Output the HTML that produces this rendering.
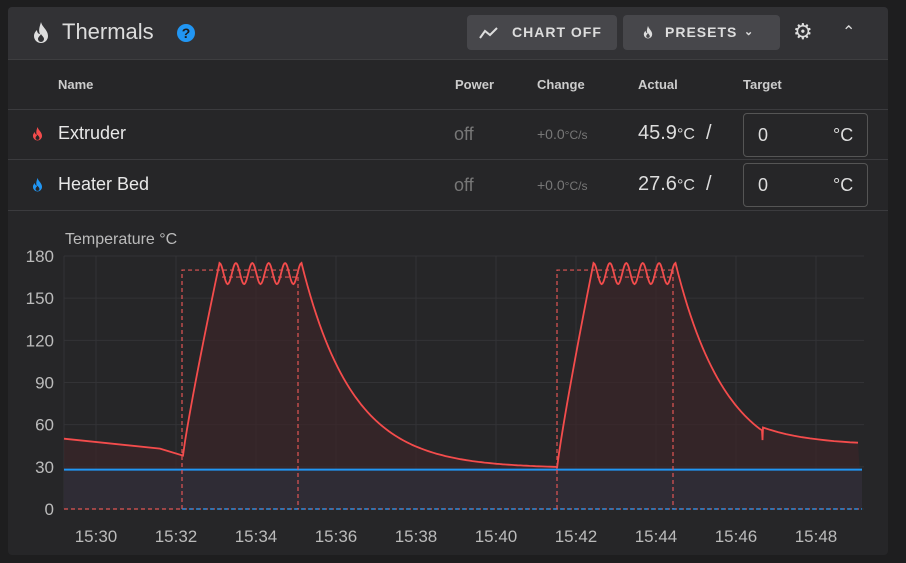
<!DOCTYPE html>
<html><head><style>
body{margin:0;width:906px;height:563px;background:#1e1e1f;font-family:"Liberation Sans",sans-serif;position:relative;overflow:hidden}
.card{position:absolute;left:8px;top:7px;width:880px;height:548px;background:#262628;border-radius:4px}
.hdr{position:absolute;left:0;top:0;width:880px;height:52px;background:#323235;border-bottom:1px solid #3e3e40;border-radius:4px 4px 0 0}
.t{position:absolute;white-space:nowrap}
.btn{position:absolute;top:8px;height:35px;background:#47474b;border-radius:4px;color:#ddd;font-weight:bold;font-size:14px;letter-spacing:1px;line-height:35px}
.line{position:absolute;left:0;width:880px;height:1px;background:#3b3b3e}
.inp{position:absolute;left:735px;width:123px;height:42px;border:1px solid #555;border-radius:4px}
</style></head><body>
<svg width="0" height="0" style="position:absolute"><defs><symbol id="fl" viewBox="0 0 20 24"><path d="M10 1C11 6 17 9 17 15a7 7 0 0 1-14 0c0-3 2-5 3-6 0 2 1 4 3 4C7 9 9 5 10 1zM10 21a3 3 0 0 0 3-3c0-2-2-3-3-5-1 2-3 3-3 5a3 3 0 0 0 3 3z" fill-rule="evenodd"/></symbol></defs></svg>
<div class="card">
<div class="hdr">
<svg class="t" style="left:23px;top:14px;fill:#ddd" width="20" height="24"><use href="#fl"/></svg>
<div class="t" style="left:54px;top:12px;font-size:22px;color:#ddd">Thermals</div>
<div class="t" style="left:169px;top:17px;width:18px;height:18px;border-radius:50%;background:#2196f3;color:#1e1e1f;font-size:14px;font-weight:bold;text-align:center;line-height:18px">?</div>
<div class="btn" style="left:459px;width:150px"><svg class="t" style="left:12px;top:11px" width="20" height="14"><polyline points="1,12 6,5 11,9 18,2" fill="none" stroke="#ddd" stroke-width="2"/></svg><span style="position:absolute;left:45px">CHART OFF</span></div>
<div class="btn" style="left:615px;width:157px"><svg class="t" style="left:19px;top:10px;fill:#ddd" width="12" height="15"><use href="#fl"/></svg><span style="position:absolute;left:42px">PRESETS</span><span style="position:absolute;left:121px;font-size:11px">&#8964;</span></div>
<div class="t" style="left:785px;top:12px;font-size:22px;color:#ddd">⚙</div>
<div class="t" style="left:834px;top:15px;font-size:16px;color:#ddd">&#8963;</div>
</div>
<div class="t" style="left:50px;top:70px;font-size:13px;font-weight:bold;color:#ccc">Name</div>
<div class="t" style="left:447px;top:70px;font-size:13px;font-weight:bold;color:#ccc">Power</div>
<div class="t" style="left:529px;top:70px;font-size:13px;font-weight:bold;color:#ccc">Change</div>
<div class="t" style="left:630px;top:70px;font-size:13px;font-weight:bold;color:#ccc">Actual</div>
<div class="t" style="left:735px;top:70px;font-size:13px;font-weight:bold;color:#ccc">Target</div>
<div class="line" style="top:102px"></div>
<div class="line" style="top:152px"></div>
<div class="line" style="top:203px"></div>
<svg class="t" style="left:23px;top:119px;fill:#f44c4c" width="13" height="16"><use href="#fl"/></svg>
<div class="t" style="left:50px;top:116px;font-size:18px;color:#e8e8e8">Extruder</div>
<div class="t" style="left:446px;top:117px;font-size:18px;color:#777">off</div>
<div class="t" style="left:529px;top:119px;font-size:14px;color:#777">+0.0<span style="font-size:12px">°C/s</span></div>
<div class="t" style="left:630px;top:115px;font-size:20px;color:#ddd">45.9<span style="font-size:16px">°C</span>&nbsp;&nbsp;/</div>
<div class="inp" style="top:106px"><span class="t" style="left:14px;top:11px;color:#ddd;font-size:18px">0</span><span class="t" style="left:89px;top:11px;color:#ddd;font-size:18px">°C</span></div>
<svg class="t" style="left:23px;top:170px;fill:#2196f3" width="13" height="16"><use href="#fl"/></svg>
<div class="t" style="left:50px;top:167px;font-size:18px;color:#e8e8e8">Heater Bed</div>
<div class="t" style="left:446px;top:168px;font-size:18px;color:#777">off</div>
<div class="t" style="left:529px;top:170px;font-size:14px;color:#777">+0.0<span style="font-size:12px">°C/s</span></div>
<div class="t" style="left:630px;top:166px;font-size:20px;color:#ddd">27.6<span style="font-size:16px">°C</span>&nbsp;&nbsp;/</div>
<div class="inp" style="top:156px"><span class="t" style="left:14px;top:11px;color:#ddd;font-size:18px">0</span><span class="t" style="left:89px;top:11px;color:#ddd;font-size:18px">°C</span></div>
</div>
<svg id="ch" style="position:absolute;left:0;top:0" width="906" height="563"></svg>
<script>
var s='';
function Y(v){return 509-v*253/180}
for(var i=0;i<=6;i++){var y=Y(i*30);s+='<line x1="64" x2="864" y1="'+y+'" y2="'+y+'" stroke="#333336"/>';s+='<text x="54" y="'+(y+6)+'" fill="#bbb" font-size="17" text-anchor="end">'+(i*30)+'</text>';}
var lab=['15:30','15:32','15:34','15:36','15:38','15:40','15:42','15:44','15:46','15:48'];
for(var i=0;i<10;i++){var x=96+80*i;s+='<line x1="'+x+'" x2="'+x+'" y1="256" y2="509" stroke="#333336"/>';s+='<text x="'+x+'" y="542" fill="#bbb" font-size="17" text-anchor="middle">'+lab[i]+'</text>';}
s+='<line x1="64" x2="64" y1="256" y2="509" stroke="#333336"/>';
var p=[];
function cyc(x0,v0,end){
 var rs=x0, pk=x0+36.5;
 for(var x=rs;x<=pk;x+=2){var f=(x-rs)/36.5;p.push([x,v0+(175-v0)*Math.pow(f,0.9)]);}
 for(var x=pk;x<=pk+82;x+=1){var ph=(x-pk)/16.4*2*Math.PI;p.push([x,167.5+7.5*Math.cos(ph)]);}
 var d=pk+82;
 for(var x=d;x<=end;x+=3){p.push([x,29+146*Math.exp(-(x-d)/51)]);}
}
p.push([64,50]);p.push([160,43]);p.push([183,38]);
cyc(183,38,557);
cyc(557,29,762);
p.push([762,56]);p.push([762.5,49]);p.push([763,58]);
for(var x=770;x<=862;x+=8){p.push([x,58-11*(1-Math.exp(-(x-763)/50))/(1-Math.exp(-99/50))]);}
var d='M'+p.map(function(q){return q[0].toFixed(1)+','+Y(q[1]).toFixed(1)}).join(' L');
s+='<path d="'+d+' L862,509 L64,509Z" fill="#3a2528" fill-opacity="0.7"/>';
s+='<rect x="64" y="'+Y(28)+'" width="798" height="'+(509-Y(28))+'" fill="#2f2c35"/>';
s+='<path d="'+d+'" fill="none" stroke="#f44c4c" stroke-width="1.8"/>';
s+='<line x1="64" x2="862" y1="'+Y(28)+'" y2="'+Y(28)+'" stroke="#2196f3" stroke-width="2"/>';
var dash='stroke="#e05555" stroke-dasharray="4,3" stroke-width="1.2" fill="none"';
[[182,298],[557,673]].forEach(function(a){
 s+='<polyline points="'+a[0]+',509 '+a[0]+','+Y(170)+' '+a[1]+','+Y(170)+'" '+dash+'/>';
 s+='<line x1="'+(a[0]+40)+'" x2="'+a[1]+'" y1="'+Y(165)+'" y2="'+Y(165)+'" '+dash+'/>';
 s+='<line x1="'+a[1]+'" x2="'+a[1]+'" y1="'+Y(170)+'" y2="509" '+dash+'/>';
});
s+='<line x1="64" x2="862" y1="509" y2="509" '+dash+'/>';
s+='<line x1="182" x2="862" y1="509" y2="509" stroke="#2196f3" stroke-dasharray="4,3" stroke-width="1.2"/>';
s+='<text x="65" y="244" fill="#bbb" font-size="16">Temperature °C</text>';
s+='<rect x="60" y="222" width="200" height="10" fill="#262628"/>';
document.getElementById('ch').innerHTML=s;
</script>
</body></html>
